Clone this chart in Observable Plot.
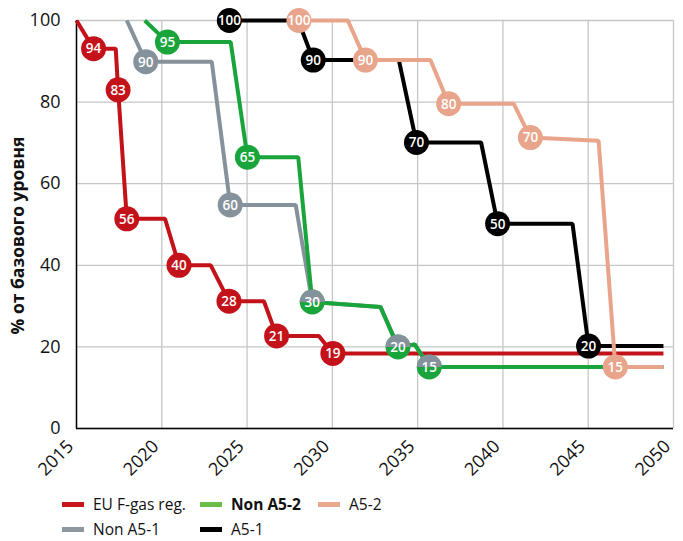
<!DOCTYPE html>
<html>
<head>
<meta charset="utf-8">
<script src="https://cdn.jsdelivr.net/npm/d3@7"></script>
<script src="https://cdn.jsdelivr.net/npm/@observablehq/plot@0.6"></script>
<style>
  html, body { margin: 0; padding: 0; background: #fff; }
  body { width: 683px; font-family: "Open Sans", sans-serif; }
  #chart svg { display: block; }
  #legend { position: relative; width: 683px; height: 61px; font-size: 15.5px; color: #111; }
  .item { position: absolute; height: 18px; line-height: 18px; white-space: nowrap; }
  .sw { display: inline-block; width: 22px; height: 5px; vertical-align: middle; margin-right: 9px; position: relative; top: -1px; }
</style>
</head>
<body>
<div id="chart"></div>
<div id="legend"></div>
<script>
// ---- data ----
const seriesNames = ["EU F-gas reg.", "Non A5-1", "Non A5-2", "A5-1", "A5-2"];
const lineColors  = ["#c4121a", "#86929b", "#19a53b", "#000000", "#e8a58b"];
const legendColors = ["#c8161d", "#8c979f", "#6cbd45", "#000000", "#e9a98f"];

const euYears  = [2015, 2016.0, 2017.3, 2017.44, 2017.95, 2020.19, 2021.01, 2022.87, 2023.94, 2025.99, 2026.73, 2029.21, 2030.03, 2049.41];
const euValues = [100, 93.1, 93.1, 83.0, 51.4, 51.4, 40.0, 40.0, 31.2, 31.2, 22.7, 22.7, 18.4, 18.4];
const euLabels = [null, "94", null, "83", "56", null, "40", null, "28", null, "21", null, "19", null];

const nonA51Years  = [2017.95, 2019.06, 2022.93, 2024.01, 2027.85, 2028.82, 2032.82, 2033.85, 2034.83, 2035.68, 2049.41];
const nonA51Values = [100, 89.9, 89.9, 54.8, 54.8, 31.0, 29.8, 20.0, 20.6, 15.1, 15.1];
const nonA51Labels = [null, "90", null, "60", null, "30", null, "20", null, "15", null];

const nonA52Years  = [2019.0, 2020.33, 2024.04, 2025.02, 2028.0, 2028.82, 2032.82, 2033.85, 2034.83, 2035.68, 2049.41];
const nonA52Values = [100, 94.7, 94.7, 66.5, 66.5, 31.0, 29.8, 20.0, 20.6, 15.1, 15.1];
const nonA52Labels = [null, "95", null, "65", null, "30", null, "20", null, "15", null];

const a51Years  = [2023.96, 2028.0, 2028.88, 2033.9, 2034.93, 2038.72, 2039.69, 2044.08, 2045.02, 2049.41];
const a51Values = [100, 100, 90.3, 90.3, 70.1, 70.1, 50.2, 50.2, 20.2, 20.2];
const a51Labels = ["100", null, "90", null, "70", null, "50", null, "20", null];

const a52Years  = [2028.04, 2030.91, 2031.94, 2035.75, 2036.82, 2040.63, 2041.61, 2045.61, 2046.59, 2049.41];
const a52Values = [100, 100, 90.3, 90.3, 79.6, 79.6, 71.3, 70.5, 15.1, 15.1];
const a52Labels = ["100", null, "90", null, "80", null, "70", null, "15", null];

const xTicks = [2015, 2020, 2025, 2030, 2035, 2040, 2045, 2050];
const yTicks = [0, 20, 40, 60, 80, 100];
const yTitle = "% от базового уровня";

// ---- build tables ----
const raw = [
  [euYears, euValues, euLabels],
  [nonA51Years, nonA51Values, nonA51Labels],
  [nonA52Years, nonA52Values, nonA52Labels],
  [a51Years, a51Values, a51Labels],
  [a52Years, a52Values, a52Labels]
];
const series = raw.map(([xs, ys, ls], i) => xs.map((x, j) => ({
  series: seriesNames[i], year: x, value: ys[j], label: ls[j]
})));
const dotsOf = s => s.filter(d => d.label != null);
const greenDots = dotsOf(series[2]);
const isShared = d => greenDots.some(g => g.year === d.year && g.value === d.value);
const grayDots = dotsOf(series[1]);
const grayFull = grayDots.filter(d => !isShared(d));
const grayHalf = grayDots.filter(d => isShared(d));

const halfTop = {
  draw(context, size) {
    const r = Math.sqrt(size / Math.PI);
    context.moveTo(r, 0);
    context.arc(0, 0, r, 0, Math.PI, true);
    context.closePath();
  }
};

const R = 12.5;
const font = "'Open Sans', sans-serif";

const marks = [
  Plot.gridY(yTicks, {stroke: "#c6c6c6", strokeOpacity: 1, strokeWidth: 1.3}),
  Plot.gridX(xTicks, {stroke: "#c6c6c6", strokeOpacity: 1, strokeWidth: 1.3}),
  Plot.axisY(yTicks, {tickSize: 0, tickPadding: 16, fontSize: 18, label: null, fill: "#111"}),
  Plot.axisX(xTicks, {tickSize: 0, tickPadding: 12, fontSize: 18, label: null, tickRotate: -45, tickFormat: "d", fill: "#111", dx: -6, dy: 3}),
  Plot.ruleY([0], {stroke: "#000", strokeWidth: 1.5}),
  Plot.ruleX([2015], {stroke: "#000", strokeWidth: 1.5}),
  Plot.text([yTitle], {text: d => d, frameAnchor: "left", textAnchor: "middle", dx: -58, dy: 11, rotate: -90, fontSize: 17.5, fontWeight: "bold", fill: "#111"}),
  ...series.map((s, i) => Plot.line(s, {x: "year", y: "value", stroke: lineColors[i], strokeWidth: 4, strokeLinejoin: "miter", strokeLinecap: "butt"})),
  Plot.dot(dotsOf(series[0]), {x: "year", y: "value", r: R, fill: lineColors[0]}),
  Plot.dot(grayFull, {x: "year", y: "value", r: R, fill: lineColors[1]}),
  Plot.dot(greenDots, {x: "year", y: "value", r: R, fill: lineColors[2]}),
  Plot.dot(grayHalf, {x: "year", y: "value", r: R, fill: lineColors[1], symbol: halfTop}),
  Plot.dot(dotsOf(series[3]), {x: "year", y: "value", r: R, fill: lineColors[3]}),
  Plot.dot(dotsOf(series[4]), {x: "year", y: "value", r: R, fill: lineColors[4]}),
  Plot.text([...dotsOf(series[0]), ...grayFull, ...greenDots, ...dotsOf(series[3]), ...dotsOf(series[4])],
    {x: "year", y: "value", text: "label", fill: "#fff", fontSize: 13.5, fontWeight: 600, dy: 0.5,
     letterSpacing: "-0.4px"})
];

const chart = Plot.plot({
  width: 683,
  height: 480,
  marginTop: 20,
  marginBottom: 52,
  marginLeft: 76,
  marginRight: 10,
  style: {fontFamily: font, background: "#fff", overflow: "visible"},
  x: {domain: [2015, 2050]},
  y: {domain: [0, 100]},
  marks
});
document.getElementById("chart").appendChild(chart);

// ---- legend ----
const legendLayout = [
  {i: 0, left: 62, top: 15, bold: false},
  {i: 2, left: 200, top: 15, bold: true},
  {i: 4, left: 318, top: 15, bold: false},
  {i: 1, left: 62, top: 40, bold: false},
  {i: 3, left: 200, top: 40, bold: false}
];
const legend = document.getElementById("legend");
legendLayout.forEach(({i, left, top, bold}) => {
  const item = document.createElement("div");
  item.className = "item";
  item.style.left = left + "px";
  item.style.top = top + "px";
  if (bold) item.style.fontWeight = "bold";
  const sw = document.createElement("span");
  sw.className = "sw";
  sw.style.background = legendColors[i];
  item.appendChild(sw);
  item.appendChild(document.createTextNode(seriesNames[i]));
  legend.appendChild(item);
});
</script>
</body>
</html>
